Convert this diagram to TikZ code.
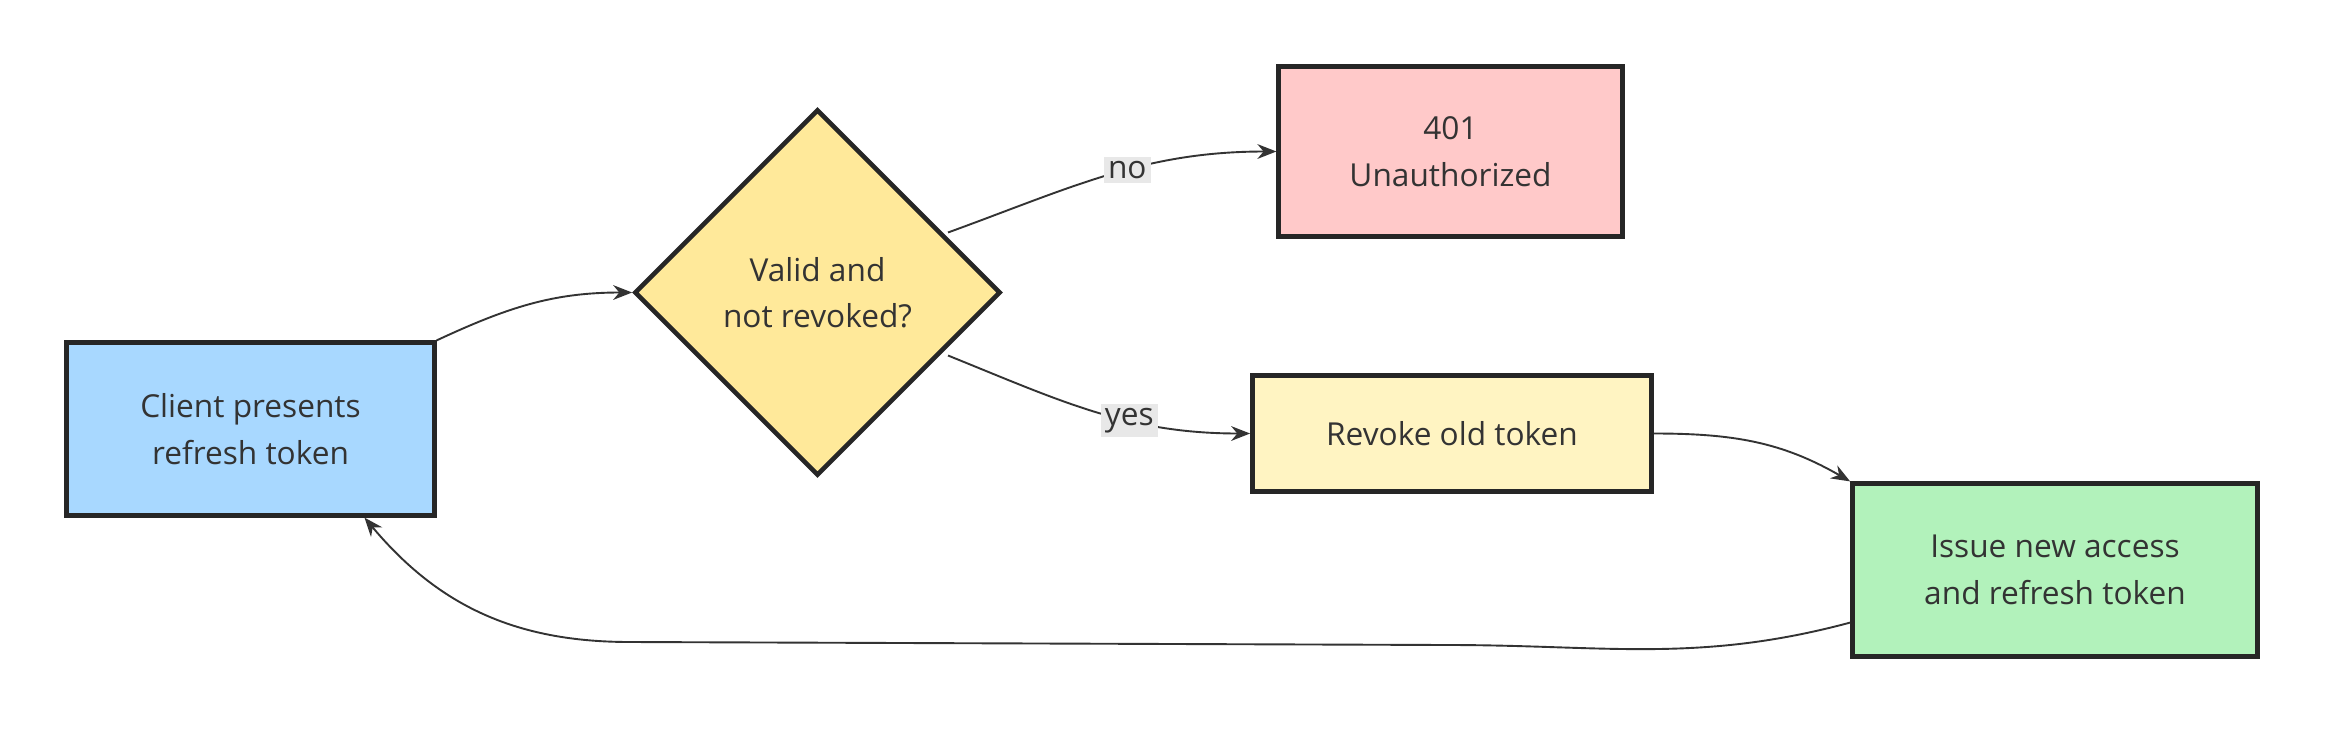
\documentclass[tikz,border=0pt]{standalone}
\usepackage{fontspec}
\setmainfont{Open Sans}
\usetikzlibrary{positioning,arrows.meta,shapes.geometric}
\definecolor{clientblue}{HTML}{A8D8FF}
\definecolor{checkyellow}{HTML}{FFE99A}
\definecolor{revokeyellow}{HTML}{FFF4C2}
\definecolor{errred}{HTML}{FFC9C9}
\definecolor{okgreen}{HTML}{B2F2BB}
\definecolor{labelgray}{HTML}{E8E8E8}
\tikzset{
  box/.style={draw=black!85,line width=2.2pt,align=center,
    font=\fontsize{15}{22}\selectfont,text=black!80},
  flow/.style={draw=black!80,line width=0.9pt,-{Stealth[length=9pt,width=7pt]}},
  edgelabel/.style={fill=labelgray,font=\fontsize{15}{18}\selectfont,
    text=black!80,inner sep=2pt}
}
\begin{document}
\begin{tikzpicture}[x=0.025cm,y=-0.025cm]
            \useasboundingbox (0,0) rectangle (1568,488);
            \node[box,fill=clientblue,minimum width=6.125cm,minimum height=2.875cm]
                (client) at (167,286) {Client presents\\refresh token};
            \node[box,diamond,fill=checkyellow,minimum width=6.1cm,minimum height=6.1cm,inner sep=0pt]
                (check) at (545,195) {Valid and\\not revoked?};
            \node[box,fill=errred,minimum width=5.725cm,minimum height=2.825cm]
                (unauth) at (967,101) {401\\Unauthorized};
            \node[box,fill=revokeyellow,minimum width=6.65cm,minimum height=1.925cm]
                (revoke) at (968,289) {Revoke old token};
            \node[box,fill=okgreen,minimum width=6.75cm,minimum height=2.875cm]
                (issue) at (1370,380) {Issue new access\\and refresh token};
            \draw[flow] (client.north east) to[out=25,in=180] (check.west);
            \draw[flow] (632,155) to[out=20,in=180]
                node[edgelabel,pos=0.56] {no} (unauth.west);
            \draw[flow] (632,237) to[out=-22,in=180]
                node[edgelabel,pos=0.62] {yes} (revoke.west);
            \draw[flow] (revoke.east) to[out=0,in=150] (issue.north west);
            \draw[flow] ([yshift=0.6cm]issue.south west) to[out=195,in=0] (965,430)
                -- (420,428) to[out=180,in=-50] ([xshift=5cm]client.south west);
        \end{tikzpicture}
\end{document}
